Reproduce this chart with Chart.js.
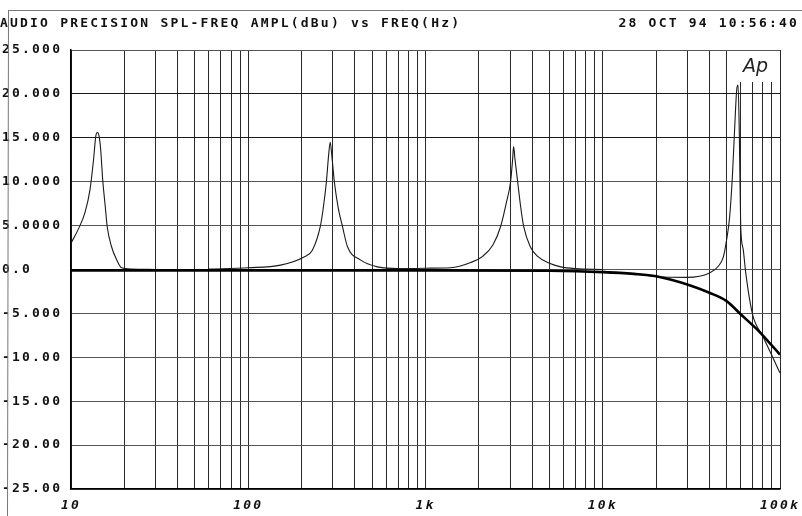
<!DOCTYPE html>
<html><head><meta charset="utf-8">
<script src="https://cdn.jsdelivr.net/npm/chart.js@4/dist/chart.umd.min.js"></script>
<style>html,body{margin:0;padding:0;background:#fff}#wrap{width:802px;height:516px;position:relative}</style>
</head><body><div id="wrap"><canvas id="c" width="802" height="516"></canvas></div>
<script>
const titleText = 'AUDIO PRECISION SPL-FREQ AMPL(dBu) vs FREQ(Hz)';
const dateText = '28 OCT 94 10:56:40';
const logoText = 'Ap';

const yTickValues = [25, 20, 15, 10, 5, 0, -5, -10, -15, -20, -25];
const yTickLabels = ['25.000', '20.000', '15.000', '10.000', '5.0000', '0.0', '-5.000', '-10.00', '-15.00', '-20.00', '-25.00'];
const xMajorValues = [10, 100, 1000, 10000, 100000];
const xMajorLabels = ['10', '100', '1k', '10k', '100k'];
const xGridMultipliers = [1, 2, 3, 4, 5, 6, 7, 8, 9];

// flat response with HF roll-off
const flatFreq = [10, 100, 1000, 5000, 10000, 15000, 20000, 30000, 40000, 50000, 60000, 74000, 85000, 100000];
const flatDb   = [-0.1, -0.1, -0.1, -0.15, -0.3, -0.5, -0.76, -1.7, -2.65, -3.6, -5.1, -6.8, -8.1, -9.7];

// resonance near 14 Hz
const res1Freq = [10, 11, 12, 12.8, 13.4, 13.8, 14.1, 14.4, 14.7, 15.1, 15.6, 16, 16.9, 18.1, 19.3, 22, 30];
const res1Db   = [3.0, 4.6, 6.5, 9.1, 12.5, 15.2, 15.6, 15.2, 13.7, 10.2, 7.2, 4.9, 2.65, 1.1, 0.2, 0.05, 0];

// resonance near 290 Hz
const res2Freq = [60, 100, 152, 205, 230, 255, 265, 276, 284, 290, 296, 306, 322, 340, 363, 429, 536, 700, 1000];
const res2Db   = [0.05, 0.2, 0.5, 1.4, 2.2, 4.9, 7, 10, 13, 14.5, 13, 10, 7, 4.9, 2.6, 1.1, 0.3, 0.1, 0];

// resonance near 3.1 kHz
const res3Freq = [600, 1000, 1384, 1800, 2100, 2400, 2654, 2850, 3020, 3100, 3141, 3200, 3311, 3450, 3579, 3900, 4295, 5000, 5794, 7000, 10000];
const res3Db   = [0.05, 0.15, 0.2, 0.8, 1.5, 2.8, 4.9, 7.5, 10, 12.5, 14, 12.5, 10, 7, 4.9, 2.6, 1.5, 0.7, 0.3, 0.1, 0];

// resonance near 58 kHz
const res4Freq = [10000, 15000, 20000, 30000, 40000, 45000, 48000, 50000, 52000, 54000, 56000, 57000, 58000, 59000, 60000, 62000, 64000, 70000, 80000, 90000, 100000];
const res4Db   = [-0.2, -0.5, -0.8, -0.9, -0.4, 0.4, 1.5, 3.4, 6, 11, 17.8, 20.5, 21, 15, 5, 2.3, -0.3, -5.1, -7.6, -9.8, -11.8];

function pts(f, d) { return f.map((v, i) => ({ x: v, y: d[i] })); }

const SPACING = '2.2px';
const MONO = "'DejaVu Sans Mono', 'Liberation Mono', monospace";

const decor = {
  id: 'decor',
  beforeUpdate(c) { c.ctx.letterSpacing = SPACING; },
  beforeDraw(c) { c.ctx.letterSpacing = SPACING; },
  beforeDatasetsDraw(c) {
    const ctx = c.ctx, a = c.chartArea;
    ctx.save();
    ctx.fillStyle = '#fff';
    ctx.fillRect(735, a.top + 1, a.right - 735 - 1, 31);
    ctx.letterSpacing = '0px';
    ctx.fillStyle = '#222';
    ctx.font = "italic 19px 'DejaVu Sans'";
    ctx.textBaseline = 'middle';
    ctx.textAlign = 'left';
    ctx.fillText(logoText, 743, 67);
    ctx.restore();
  },
  afterDraw(c) {
    const ctx = c.ctx;
    ctx.save();
    ctx.strokeStyle = '#777';
    ctx.lineWidth = 1;
    ctx.beginPath();
    ctx.moveTo(9, 10.5); ctx.lineTo(802, 10.5);
    ctx.moveTo(8.5, 10); ctx.lineTo(7.5, 516);
    ctx.stroke();
    ctx.letterSpacing = SPACING;
    ctx.fillStyle = '#111';
    ctx.font = 'bold 13px ' + MONO;
    ctx.textBaseline = 'middle';
    ctx.textAlign = 'left';
    ctx.fillText(titleText, 0, 24);
    ctx.textAlign = 'right';
    ctx.fillText(dateText, 799, 24);
    ctx.restore();
  }
};

const xTicks = [];
for (let e = 1; e <= 4; e++) for (const m of xGridMultipliers) xTicks.push(m * Math.pow(10, e));
xTicks.push(100000);

const lineCommon = { pointRadius: 0, borderColor: '#1a1a1a', fill: false, cubicInterpolationMode: 'monotone' };

new Chart(document.getElementById('c'), {
  type: 'line',
  data: {
    datasets: [
      Object.assign({ data: pts(flatFreq, flatDb), borderWidth: 2.6 }, lineCommon, { borderColor: '#000' }),
      Object.assign({ data: pts(res1Freq, res1Db), borderWidth: 1.1 }, lineCommon),
      Object.assign({ data: pts(res2Freq, res2Db), borderWidth: 1.1 }, lineCommon),
      Object.assign({ data: pts(res3Freq, res3Db), borderWidth: 1.1 }, lineCommon),
      Object.assign({ data: pts(res4Freq, res4Db), borderWidth: 1.1 }, lineCommon)
    ]
  },
  options: {
    responsive: false,
    animation: false,
    devicePixelRatio: 1,
    layout: { padding: { left: 2, right: 22, top: 50, bottom: 0 } },
    plugins: { legend: { display: false }, tooltip: { enabled: false }, title: { display: false } },
    scales: {
      x: {
        type: 'logarithmic',
        min: 10, max: 100000,
        afterBuildTicks: s => { s.ticks = xTicks.map(v => ({ value: v })); },
        afterFit: s => { s.height = 27; s.paddingLeft = 0; s.paddingRight = 0; },
        grid: { color: '#2a2a2a', lineWidth: 1, drawTicks: false },
        border: { color: '#000', width: 1.5 },
        ticks: {
          autoSkip: false, maxRotation: 0, minRotation: 0, padding: 9,
          color: '#111',
          font: { family: MONO, size: 13, weight: 'bold', style: 'italic' },
          callback: v => { const i = xMajorValues.indexOf(v); return i >= 0 ? xMajorLabels[i] : ''; }
        }
      },
      y: {
        min: -25, max: 25,
        afterBuildTicks: s => { s.ticks = yTickValues.slice().reverse().map(v => ({ value: v })); },
        afterFit: s => { s.width = 69; s.paddingTop = 0; s.paddingBottom = 0; },
        grid: { color: ctx => (ctx.tick && (ctx.tick.value === 20 || ctx.tick.value === 15)) ? '#1a1a1a' : '#555', lineWidth: 1, drawTicks: false },
        border: { color: '#000', width: 1.5 },
        ticks: {
          crossAlign: 'far', padding: 8, color: '#111',
          font: { family: MONO, size: 13, weight: 'bold' },
          callback: v => { const i = yTickValues.indexOf(v); return i >= 0 ? yTickLabels[i] : ''; }
        }
      }
    }
  },
  plugins: [decor]
});
</script>
</body></html>
